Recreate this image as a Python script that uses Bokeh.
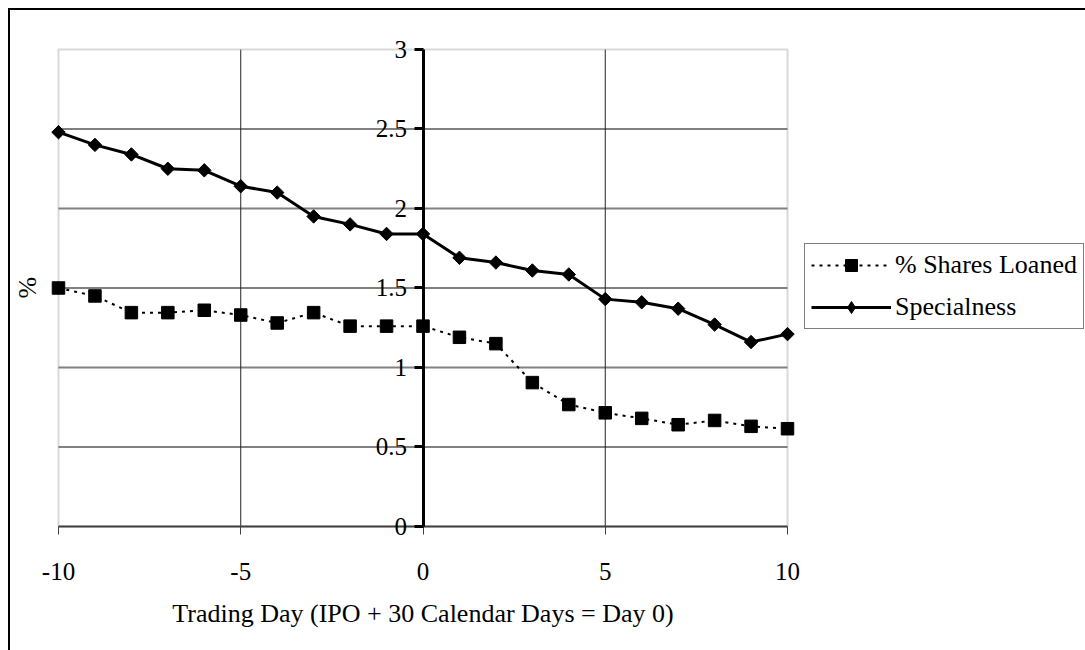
from bokeh.plotting import figure
from bokeh.models import (Range1d, FixedTicker, LinearAxis, Legend, LegendItem, BoxAnnotation, Title)
from bokeh.embed import file_html
from bokeh.resources import INLINE

# ---- data ----
days = [-10, -9, -8, -7, -6, -5, -4, -3, -2, -1, 0, 1, 2, 3, 4, 5, 6, 7, 8, 9, 10]
shares_loaned = [1.50, 1.45, 1.345, 1.345, 1.36, 1.33, 1.28, 1.345, 1.26, 1.26, 1.26,
                 1.19, 1.15, 0.905, 0.767, 0.715, 0.68, 0.64, 0.667, 0.63, 0.615]
specialness = [2.48, 2.40, 2.34, 2.25, 2.24, 2.14, 2.10, 1.95, 1.90, 1.84, 1.84,
               1.69, 1.66, 1.61, 1.585, 1.43, 1.41, 1.37, 1.27, 1.16, 1.21]
x_ticks = [-10, -5, 0, 5, 10]
x_tick_labels = ["-10", "-5", "0", "5", "10"]
x_grid_ticks = [-5, 5]
y_ticks = [0, 0.5, 1, 1.5, 2, 2.5, 3]
y_tick_labels = ["0", "0.5", "1", "1.5", "2", "2.5", "3"]
y_grid_ticks = [0.5, 1, 1.5, 2, 2.5]
series_names = ["% Shares Loaned", "Specialness"]
x_title = "Trading Day (IPO + 30 Calendar Days = Day 0)"
y_title = "%"

FONT = "Liberation Serif"
FS_TICK = "25px"
FS = "26px"

p = figure(frame_width=763, frame_height=560,
           x_range=Range1d(-10.466, 10.466), y_range=Range1d(-0.434, 3.088),
           output_backend="svg", toolbar_location=None,
           min_border_left=31, min_border_top=25, min_border_right=270, min_border_bottom=55,
           margin=(8, 0, 0, 8),
           x_axis_location=None, y_axis_location=None,
           styles={"border-left": "2px solid black", "border-top": "2px solid black"},
           background_fill_color="white", border_fill_color="white")

p.outline_line_color = None
p.ygrid.visible = False
p.xgrid.visible = False

# plot-area border
p.add_layout(BoxAnnotation(left=-10, right=10, bottom=0, top=3, fill_color=None,
                           line_color="#808080", line_width=2, level="underlay"))

# grid lines
p.segment(x0=-10, x1=10, y0=y_grid_ticks, y1=y_grid_ticks,
          line_color="#808080", line_width=2, level="underlay")
p.segment(x0=x_grid_ticks, x1=x_grid_ticks, y0=0, y1=3,
          line_color="#222222", line_width=1, level="underlay")

# x axis at y = 0
xa = LinearAxis(fixed_location=0, bounds=(-10, 10))
xa.ticker = FixedTicker(ticks=x_ticks)
xa.major_label_overrides = {t: l for t, l in zip(x_ticks, x_tick_labels)}
xa.axis_line_color = "#404040"
xa.axis_line_width = 2
xa.major_tick_line_color = "#404040"
xa.major_tick_out = 8
xa.major_tick_in = 0
xa.minor_tick_line_color = None
xa.major_label_text_font = FONT
xa.major_label_text_font_size = FS_TICK
xa.major_label_text_color = "black"
xa.major_label_standoff = 29
p.add_layout(xa, "below")

# x axis title (label-only axis)
xt = LinearAxis(axis_label=x_title, axis_label_text_font=FONT,
                axis_label_text_font_size=FS, axis_label_text_font_style="normal",
                axis_label_text_color="black",
                axis_line_color=None, major_tick_line_color=None, minor_tick_line_color=None,
                major_label_text_font_size="0px", major_label_standoff=0,
                major_tick_out=0, major_tick_in=0, axis_label_standoff=3,
                ticker=FixedTicker(ticks=[]))
p.add_layout(xt, "below")

# y axis at x = 0
ya = LinearAxis(fixed_location=0, bounds=(0, 3))
ya.ticker = FixedTicker(ticks=y_ticks)
ya.major_label_overrides = {t: l for t, l in zip(y_ticks, y_tick_labels)}
ya.axis_line_color = "black"
ya.axis_line_width = 3
ya.major_tick_line_color = "black"
ya.major_tick_line_width = 3
ya.major_tick_out = 9
ya.major_tick_in = 0
ya.minor_tick_line_color = None
ya.major_label_text_font = FONT
ya.major_label_text_font_size = FS_TICK
ya.major_label_text_color = "black"
ya.major_label_standoff = 7
p.add_layout(ya, "left")

# "%" title on the far left
p.add_layout(Title(text=y_title, align="left", offset=297, standoff=0,
                   text_font=FONT, text_font_size=FS, text_font_style="normal",
                   text_color="black"), "left")

# series
l1 = p.line(days, shares_loaned, line_color="black", line_width=2, line_dash="3 5")
s1 = p.scatter(days, shares_loaned, marker="square", size=12.5, fill_color="black", line_color="black")
l2 = p.line(days, specialness, line_color="black", line_width=3)
s2 = p.scatter(days, specialness, marker="square", angle=0.785398, size=9.5,
               fill_color="black", line_color="black")
# legend key glyph (diamond shape); zero-size in the plot itself
s2_key = p.scatter(days, specialness, marker="diamond", size=0,
                   fill_color="black", line_color="black")

legend = Legend(items=[LegendItem(label=series_names[0], renderers=[l1, s1]),
                       LegendItem(label=series_names[1], renderers=[l2, s2_key])],
                location=(0, 266), orientation="vertical",
                label_text_font=FONT, label_text_font_size=FS, label_text_color="black",
                glyph_width=80, glyph_height=30, label_standoff=4, spacing=12,
                padding=6, margin=0,
                border_line_color="black", border_line_width=1,
                background_fill_color="white", background_fill_alpha=1)
p.add_layout(legend, "right")

open("out.html", "w").write(file_html(p, INLINE))
